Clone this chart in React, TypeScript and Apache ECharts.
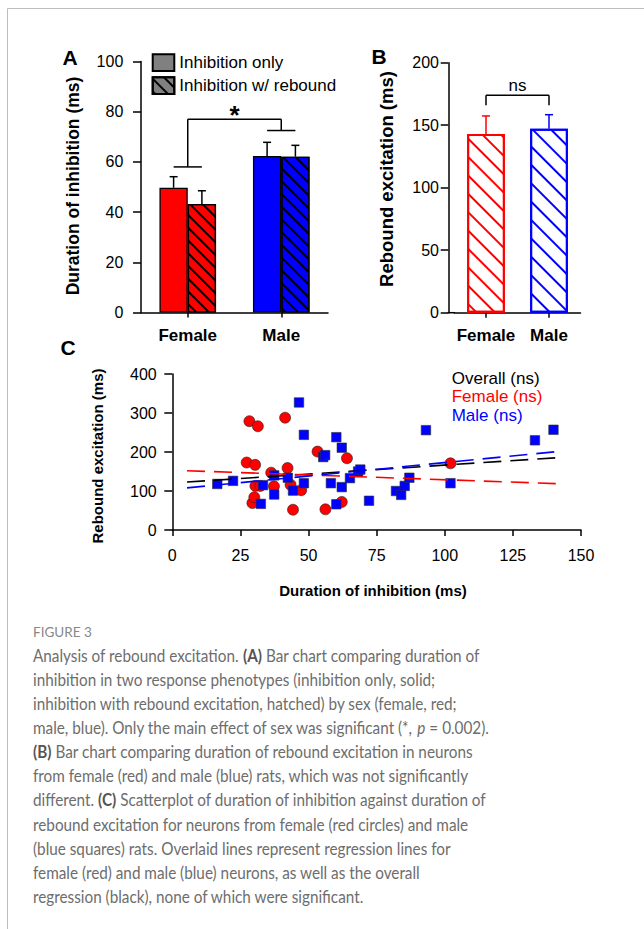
import React, { useEffect, useRef } from 'react';
import * as echarts from 'echarts';

// ---------- DATA ----------
const sexCategories = ['Female', 'Male'];
// Panel A: duration of inhibition (ms)
const inhibitionOnlyMean = [49.7, 62.4];
const inhibitionOnlyTop = [54.1, 67.8];
const inhibitionReboundMean = [43.2, 62.1];
const inhibitionReboundTop = [48.5, 66.6];
// significance bracket A: [female level, male level, bracket top, star level]
const bracketA = [58, 72.5, 77, 78.5];
// Panel B: rebound excitation (ms)
const reboundMean = [143, 147.2];
const reboundTop = [157.4, 158.4];
const bracketB = [166, 174, 182];
// Panel C: scatter [duration of inhibition, rebound excitation]
const femalePoints = [
  [27.3, 173], [28.3, 279], [29.4, 69], [30.1, 84], [30.4, 167], [30.5, 113],
  [31.4, 266], [32.3, 113], [36.3, 147], [37.3, 112], [41.4, 288], [42.3, 159],
  [43.4, 116], [44.3, 52], [47.3, 102], [53.3, 201], [56.2, 53], [62.2, 72],
  [64.1, 184], [102.1, 171],
];
const malePoints = [
  [16.5, 118], [22.3, 126], [32.5, 67], [33.3, 115], [37.4, 140], [37.4, 91],
  [42.4, 134], [44.3, 101], [46.5, 327], [48.3, 244], [48.3, 120], [55.4, 187],
  [56.1, 192], [58.2, 120], [60.2, 238], [60.2, 66], [62.2, 211], [62.2, 110],
  [65.2, 133], [68.2, 150], [69.0, 155], [72.2, 75], [82.1, 100], [84.0, 90],
  [85.3, 113], [87.0, 134], [93.1, 256], [102.1, 120], [133.1, 230], [139.9, 257],
];
const overallFit = [[5.4, 123], [142.6, 186]];
const femaleFit = [[5.4, 152], [142.6, 118.5]];
const maleFit = [[5.4, 108], [142.6, 202]];
const scatterLegend = ['Overall (ns)', 'Female (ns)', 'Male (ns)'];

const captionTitle = 'FIGURE 3';
const captionLines = [
  'Analysis of rebound excitation. {b|(A)} Bar chart comparing duration of',
  'inhibition in two response phenotypes (inhibition only, solid;',
  'inhibition with rebound excitation, hatched) by sex (female, red;',
  'male, blue). Only the main effect of sex was significant (*, {i|p} = 0.002).',
  '{b|(B)} Bar chart comparing duration of rebound excitation in neurons',
  'from female (red) and male (blue) rats, which was not significantly',
  'different. {b|(C)} Scatterplot of duration of inhibition against duration of',
  'rebound excitation for neurons from female (red circles) and male',
  '(blue squares) rats. Overlaid lines represent regression lines for',
  'female (red) and male (blue) neurons, as well as the overall',
  'regression (black), none of which were significant.',
];

// ---------- STYLE ----------
const RED = '#ff0000';
const BLUE = '#0000ff';
const sexColors = [RED, BLUE];
const FONT = 'Liberation Sans, Arial, Helvetica, sans-serif';
const CAP_FONT = 'Lato, Open Sans, sans-serif';
const BAR_A = 28.3;
const BAR_B = 37.7;

const hatch = (color: string, w: number, gap: number) => ({
  symbol: 'rect',
  symbolSize: 1,
  color,
  dashArrayX: [1, 0],
  dashArrayY: [w, gap],
  rotation: Math.PI / 4,
});

const axisLine = { show: true, lineStyle: { color: '#000', width: 1.5 } };
const tick = (length: number) => ({ show: true, length, lineStyle: { color: '#000', width: 1.5 } });

function errorSeries(xi: number, means: number[], tops: number[], offset: number, colors: string[]) {
  return {
    type: 'custom',
    xAxisIndex: xi,
    yAxisIndex: xi,
    silent: true,
    z: 5,
    data: means.map((m, i) => [i, m, tops[i]]),
    encode: { x: 0, y: [1, 2] },
    renderItem: (params: any, api: any) => {
      const c = api.value(0);
      const p0 = api.coord([c, api.value(1)]);
      const p1 = api.coord([c, api.value(2)]);
      const x = p0[0] + offset;
      const stroke = colors[c];
      return {
        type: 'group',
        children: [
          { type: 'line', shape: { x1: x, y1: p0[1], x2: x, y2: p1[1] }, style: { stroke, lineWidth: 1.5 } },
          { type: 'line', shape: { x1: x - 4, y1: p1[1], x2: x + 4, y2: p1[1] }, style: { stroke, lineWidth: 1.5 } },
        ],
      };
    },
  };
}

function buildOption() {
  const captionGraphics: any[] = captionLines.map((t, i) => ({
    type: 'text',
    x: 33,
    y: 655 + i * 24.1,
    scaleX: 0.9,
    style: {
      text: t,
      fontFamily: CAP_FONT,
      fontSize: 17,
      fill: '#6d6d6d',
      verticalAlign: 'middle',
      align: 'left',
      rich: {
        b: { fontFamily: CAP_FONT, fontSize: 17, fontWeight: 'bold', fill: '#555' },
        i: { fontFamily: CAP_FONT, fontSize: 17, fontStyle: 'italic', fill: '#6d6d6d' },
      },
    },
  }));

  const boldText = (text: string, x: number, y: number, size: number, rotation = 0) => ({
    type: 'text',
    x,
    y,
    rotation,
    style: { text, fontFamily: FONT, fontSize: size, fontWeight: 'bold', fill: '#000', align: 'center', verticalAlign: 'middle' },
  });

  const catLabel = { fontFamily: FONT, fontSize: 17, fontWeight: 'bold', color: '#000', margin: 14, interval: 0 };

  return {
    animation: false,
    backgroundColor: '#fff',
    textStyle: { fontFamily: FONT },
    legend: {
      data: ['Inhibition only', 'Inhibition w/ rebound'],
      orient: 'vertical',
      left: 151.7,
      top: 53.3,
      padding: 0,
      itemWidth: 21.6,
      itemHeight: 16.7,
      itemGap: 4.3,
      icon: 'rect',
      selectedMode: false,
      textStyle: { fontFamily: FONT, fontSize: 17, color: '#000' },
    },
    grid: [
      { left: 141, top: 61.5, width: 187, height: 251 },
      { left: 454.5, top: 62.7, width: 126, height: 250 },
      { left: 172.3, top: 374, width: 408.7, height: 156 },
    ],
    xAxis: [
      {
        type: 'category', gridIndex: 0, data: sexCategories,
        axisLine, axisTick: { ...tick(5), alignWithLabel: true, interval: 0 },
        axisLabel: catLabel,
      },
      {
        type: 'category', gridIndex: 1, data: sexCategories,
        axisLine, axisTick: { ...tick(5), alignWithLabel: true, interval: 0 },
        axisLabel: catLabel,
      },
      {
        type: 'value', gridIndex: 2, min: 0, max: 150, interval: 25,
        axisLine, axisTick: tick(6), splitLine: { show: false },
        axisLabel: { fontFamily: FONT, fontSize: 16, color: '#000', margin: 17 },
      },
    ],
    yAxis: [
      {
        type: 'value', gridIndex: 0, min: 0, max: 100, interval: 20,
        axisLine, axisTick: tick(8), splitLine: { show: false },
        axisLabel: { fontFamily: FONT, fontSize: 16, color: '#000', margin: 17.7 },
      },
      {
        type: 'value', gridIndex: 1, min: 0, max: 200, interval: 50, offset: 6.2,
        axisLine, axisTick: tick(7.6), splitLine: { show: false },
        axisLabel: { fontFamily: FONT, fontSize: 16, color: '#000', margin: 9.3 },
      },
      {
        type: 'value', gridIndex: 2, min: 0, max: 400, interval: 100,
        axisLine, axisTick: tick(8), splitLine: { show: false },
        axisLabel: { fontFamily: FONT, fontSize: 16, color: '#000', margin: 15.6 },
      },
    ],
    series: [
      {
        type: 'bar', name: 'Inhibition only', xAxisIndex: 0, yAxisIndex: 0,
        barWidth: BAR_A, barGap: '0%',
        itemStyle: { color: '#808080', borderColor: '#000', borderWidth: 1.3 },
        data: inhibitionOnlyMean.map((v, i) => ({ value: v, itemStyle: { color: sexColors[i] } })),
      },
      {
        type: 'bar', name: 'Inhibition w/ rebound', xAxisIndex: 0, yAxisIndex: 0,
        barWidth: BAR_A, barGap: '0%',
        itemStyle: { color: '#808080', borderColor: '#000', borderWidth: 1.3, decal: hatch('#000', 1.5, 6.3) },
        data: inhibitionReboundMean.map((v, i) => ({ value: v, itemStyle: { color: sexColors[i] } })),
      },
      errorSeries(0, inhibitionOnlyMean, inhibitionOnlyTop, -BAR_A / 2, ['#000', '#000']),
      errorSeries(0, inhibitionReboundMean, inhibitionReboundTop, BAR_A / 2, ['#000', '#000']),
      {
        type: 'custom', xAxisIndex: 0, yAxisIndex: 0, silent: true, z: 5,
        data: [[0, ...bracketA]],
        encode: { x: 0, y: [1, 2, 3, 4] },
        renderItem: (params: any, api: any) => {
          const f = api.coord([0, api.value(1)]);
          const m = api.coord([1, api.value(2)]);
          const t = api.coord([0, api.value(3)]);
          const s = api.coord([0, api.value(4)]);
          const hw = BAR_A / 2;
          const st = { stroke: '#000', lineWidth: 1.5 };
          return {
            type: 'group',
            children: [
              { type: 'line', shape: { x1: f[0] - hw, y1: f[1], x2: f[0] + hw, y2: f[1] }, style: st },
              { type: 'line', shape: { x1: m[0] - hw, y1: m[1], x2: m[0] + hw, y2: m[1] }, style: st },
              { type: 'line', shape: { x1: f[0], y1: f[1], x2: f[0], y2: t[1] }, style: st },
              { type: 'line', shape: { x1: m[0], y1: m[1], x2: m[0], y2: t[1] }, style: st },
              { type: 'line', shape: { x1: f[0], y1: t[1], x2: m[0], y2: t[1] }, style: st },
              {
                type: 'text', x: (f[0] + m[0]) / 2, y: s[1],
                style: { text: '*', fontFamily: FONT, fontSize: 26, fontWeight: 'bold', fill: '#000', align: 'center', verticalAlign: 'middle' },
              },
            ],
          };
        },
      },
      {
        type: 'bar', name: 'Rebound excitation', xAxisIndex: 1, yAxisIndex: 1,
        barWidth: BAR_B,
        data: reboundMean.map((v, i) => ({
          value: v,
          itemStyle: { color: '#fff', borderColor: sexColors[i], borderWidth: 2, decal: hatch(sexColors[i], 1.8, 10.8) },
        })),
      },
      errorSeries(1, reboundMean, reboundTop, 0, sexColors),
      {
        type: 'custom', xAxisIndex: 1, yAxisIndex: 1, silent: true, z: 5,
        data: [[0, ...bracketB]],
        encode: { x: 0, y: [1, 2, 3] },
        renderItem: (params: any, api: any) => {
          const f = api.coord([0, api.value(1)]);
          const m = api.coord([1, api.value(1)]);
          const t = api.coord([0, api.value(2)]);
          const s = api.coord([0, api.value(3)]);
          const st = { stroke: '#000', lineWidth: 1.5 };
          return {
            type: 'group',
            children: [
              { type: 'line', shape: { x1: f[0], y1: f[1], x2: f[0], y2: t[1] }, style: st },
              { type: 'line', shape: { x1: m[0], y1: m[1], x2: m[0], y2: t[1] }, style: st },
              { type: 'line', shape: { x1: f[0], y1: t[1], x2: m[0], y2: t[1] }, style: st },
              {
                type: 'text', x: (f[0] + m[0]) / 2, y: s[1],
                style: { text: 'ns', fontFamily: FONT, fontSize: 17, fill: '#000', align: 'center', verticalAlign: 'middle' },
              },
            ],
          };
        },
      },
      {
        type: 'scatter', name: 'Female', xAxisIndex: 2, yAxisIndex: 2,
        symbol: 'circle', symbolSize: 11,
        itemStyle: { color: RED, borderColor: '#222', borderWidth: 0.6, opacity: 1 },
        data: femalePoints,
      },
      {
        type: 'scatter', name: 'Male', xAxisIndex: 2, yAxisIndex: 2,
        symbol: 'rect', symbolSize: 9.5,
        itemStyle: { color: BLUE, borderColor: '#333', borderWidth: 0.6, opacity: 1 },
        data: malePoints,
      },
      ...[
        { name: scatterLegend[0], data: overallFit, color: '#000' },
        { name: scatterLegend[1], data: femaleFit, color: RED },
        { name: scatterLegend[2], data: maleFit, color: BLUE },
      ].map((l) => ({
        type: 'line', name: l.name, xAxisIndex: 2, yAxisIndex: 2, z: 4,
        symbol: 'none', silent: true,
        lineStyle: { color: l.color, width: 1.6, type: [18, 9] },
        data: l.data,
      })),
    ],
    graphic: [
      { type: 'line', shape: { x1: 7.5, y1: 8.5, x2: 644, y2: 8.5 }, style: { stroke: '#bdbdbd', lineWidth: 1 } },
      { type: 'line', shape: { x1: 7.5, y1: 8.5, x2: 7.5, y2: 929 }, style: { stroke: '#bdbdbd', lineWidth: 1 } },
      { type: 'line', shape: { x1: 447.6, y1: 312.7, x2: 455, y2: 312.7 }, style: { stroke: '#000', lineWidth: 1.5 } },
      boldText('A', 70, 57, 21),
      boldText('B', 379, 56, 21),
      boldText('C', 68, 347, 21),
      boldText('Duration of inhibition (ms)', 73, 186, 17.5, Math.PI / 2),
      boldText('Rebound excitation (ms)', 386.7, 179, 18.5, Math.PI / 2),
      boldText('Rebound excitation (ms)', 97, 456, 15, Math.PI / 2),
      boldText('Duration of inhibition (ms)', 373, 590, 15),
      ...scatterLegend.map((t, i) => ({
        type: 'text', x: 451.7, y: 378 + i * 18.5,
        style: { text: t, fontFamily: FONT, fontSize: 17, fill: ['#000', RED, BLUE][i], align: 'left', verticalAlign: 'middle' },
      })),
      {
        type: 'text', x: 33, y: 632,
        style: { text: captionTitle, fontFamily: CAP_FONT, fontSize: 13.5, fill: '#888', align: 'left', verticalAlign: 'middle' },
      },
      ...captionGraphics,
    ],
  };
}

export default function App() {
  const ref = useRef<HTMLDivElement>(null);
  useEffect(() => {
    if (!ref.current) return;
    const chart = echarts.init(ref.current, null, { renderer: 'svg', width: 644, height: 929 });
    chart.setOption(buildOption() as any);
    return () => chart.dispose();
  }, []);
  return (
    <div
      ref={ref}
      style={{ position: 'absolute', left: 0, top: 0, width: 644, height: 929, background: '#fff' }}
    />
  );
}
